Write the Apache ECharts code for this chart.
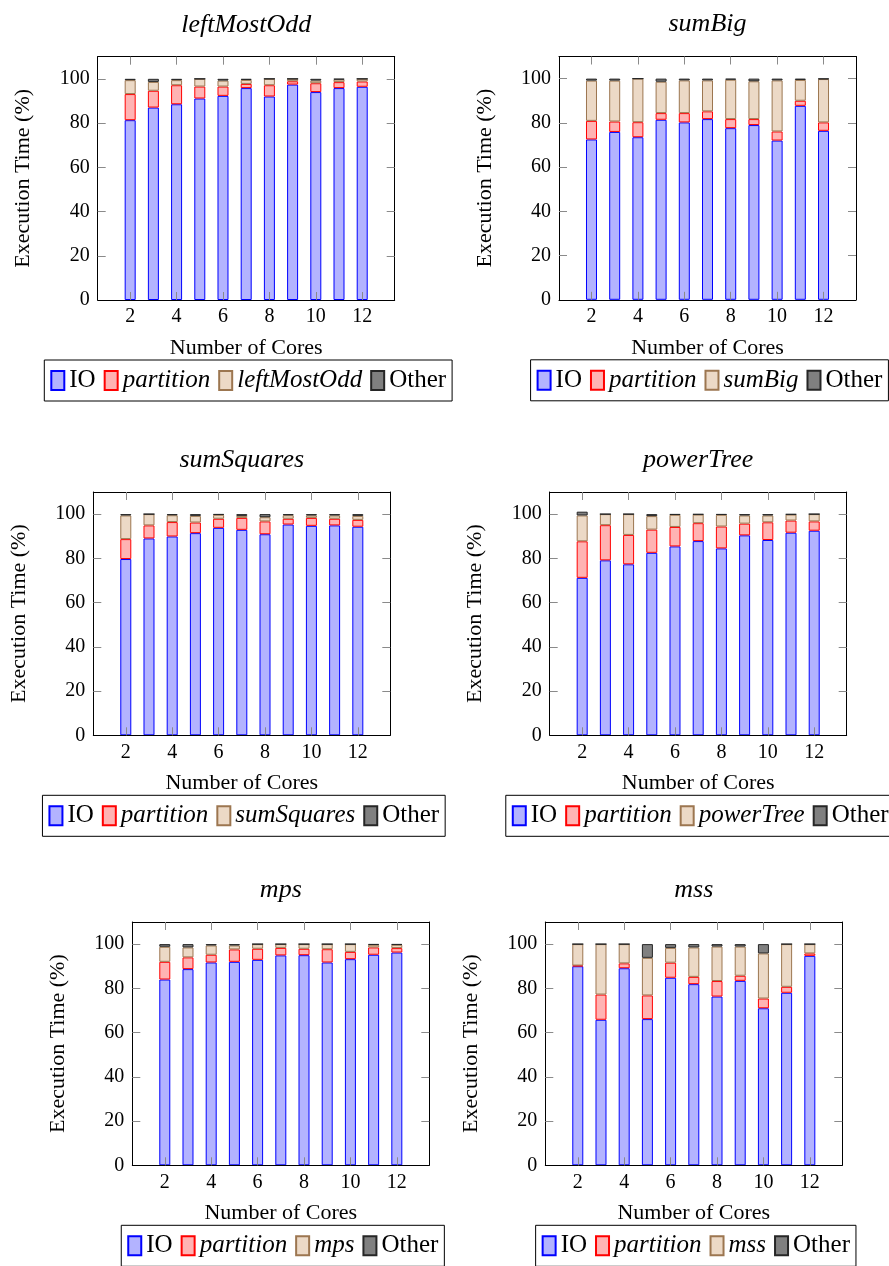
<!DOCTYPE html>
<html><head><meta charset="utf-8">
<script src="https://cdn.jsdelivr.net/npm/echarts@6/dist/echarts.min.js"></script>
<style>html,body{margin:0;padding:0;background:#fff}#c{width:889px;height:1266px}</style>
</head><body><div id="c"></div>
<script>
// ---------- data ----------
const cores = [2, 3, 4, 5, 6, 7, 8, 9, 10, 11, 12];
const xTickValues = [2, 4, 6, 8, 10, 12];
const yTickValues = [0, 20, 40, 60, 80, 100];
const chartTitles = ['leftMostOdd', 'sumBig', 'sumSquares', 'powerTree', 'mps', 'mss'];

const leftMostOddIO    = [81.3, 87.0, 88.5, 91.1, 92.3, 95.8, 92.0, 97.4, 94.0, 95.8, 96.4];
const leftMostOddPart  = [11.8, 7.6, 8.6, 5.4, 4.2, 1.9, 5.1, 1.5, 4.0, 2.7, 2.4];
const leftMostOddFunc  = [6.3, 4.0, 2.3, 3.5, 2.7, 1.8, 2.9, 1.1, 1.2, 1.2, 1.2];
const leftMostOddOther = [0.6, 1.4, 0.6, 0, 0.8, 0.5, 0, 0, 0.8, 0.3, 0];

const sumBigIO    = [72.5, 75.9, 73.5, 81.4, 80.2, 81.7, 77.6, 79.0, 72.0, 87.7, 76.4];
const sumBigPart  = [8.4, 4.7, 6.8, 3.0, 4.2, 3.5, 4.1, 2.7, 4.1, 2.3, 3.8];
const sumBigFunc  = [18.2, 18.5, 19.7, 14.2, 14.8, 14.0, 17.8, 17.1, 23.1, 9.4, 19.6];
const sumBigOther = [0.9, 0.9, 0, 1.4, 0.8, 0.8, 0.5, 1.2, 0.8, 0.6, 0.2];

const sumSquaresIO    = [79.7, 89.0, 89.9, 91.4, 93.8, 92.9, 90.9, 95.3, 94.7, 94.9, 94.3];
const sumSquaresPart  = [9.0, 5.9, 6.5, 4.8, 4.1, 5.4, 5.8, 2.6, 3.6, 3.0, 3.1];
const sumSquaresFunc  = [10.7, 5.1, 3.1, 3.0, 1.8, 0.9, 1.9, 1.6, 1.1, 1.5, 1.8];
const sumSquaresOther = [0.6, 0, 0.5, 0.8, 0.3, 0.8, 1.4, 0.5, 0.6, 0.6, 0.8];

const powerTreeIO    = [71.2, 79.1, 77.3, 82.5, 85.4, 87.8, 84.5, 90.4, 88.3, 91.6, 92.5];
const powerTreePart  = [16.5, 15.9, 13.3, 10.5, 8.8, 8.1, 9.9, 5.3, 8.0, 5.5, 4.2];
const powerTreeFunc  = [11.7, 5.0, 9.4, 6.1, 5.5, 3.9, 5.3, 3.7, 3.1, 2.7, 3.3];
const powerTreeOther = [1.7, 0, 0, 0.9, 0.3, 0.2, 0.3, 0.6, 0.6, 0.2, 0];

const mpsIO    = [84.0, 88.7, 91.7, 92.0, 92.9, 94.9, 95.0, 91.7, 93.2, 95.2, 96.2];
const mpsPart  = [8.0, 5.3, 3.5, 5.6, 5.0, 3.4, 2.9, 6.0, 3.3, 3.3, 2.0];
const mpsFunc  = [6.8, 4.5, 4.2, 1.8, 2.1, 1.7, 2.1, 2.3, 3.5, 1.2, 1.5];
const mpsOther = [1.2, 1.5, 0.6, 0.6, 0, 0, 0, 0, 0, 0.3, 0.3];

const mssIO    = [90.0, 65.8, 89.1, 66.1, 84.8, 81.9, 76.3, 83.4, 71.0, 78.0, 94.7];
const mssPart  = [0.3, 11.4, 2.2, 10.7, 6.8, 3.3, 7.0, 2.3, 4.4, 2.7, 1.1];
const mssFunc  = [9.7, 22.8, 8.7, 17.0, 6.7, 13.3, 15.6, 13.2, 20.4, 19.3, 4.2];
const mssOther = [0, 0, 0, 6.2, 1.7, 1.5, 1.1, 1.1, 4.2, 0, 0];

const panelData = [
  [leftMostOddIO, leftMostOddPart, leftMostOddFunc, leftMostOddOther],
  [sumBigIO, sumBigPart, sumBigFunc, sumBigOther],
  [sumSquaresIO, sumSquaresPart, sumSquaresFunc, sumSquaresOther],
  [powerTreeIO, powerTreePart, powerTreeFunc, powerTreeOther],
  [mpsIO, mpsPart, mpsFunc, mpsOther],
  [mssIO, mssPart, mssFunc, mssOther]
];

// ---------- layout / style ----------
const FONT = "'Liberation Serif', 'Times New Roman', serif";
const gridPos = [[97.7, 56.7], [559, 56.5], [93.3, 492], [549.7, 492], [132.3, 922], [545.3, 922]];
const GW = 297, GH = 243.3;
const X_MIN = 0.6, X_MAX = 13.4;
const fills = ['#b3b3ff', '#ffb3b3', '#ecd9c6', '#808080'];
const borders = ['#0000ff', '#ff0000', '#9c7650', '#262626'];
const LEG_FS = 25, TITLE_FS = 26, TICK_FS = 20, NAME_FS = 22;

const ctx = document.createElement('canvas').getContext('2d');
function textW(t, italic, fs) {
  ctx.font = (italic ? 'italic ' : '') + fs + 'px ' + FONT;
  return ctx.measureText(t).width;
}

const chart = echarts.init(document.getElementById('c'), null, {renderer: 'canvas'});
const grid = [], xAxis = [], yAxis = [], series = [], legend = [], title = [];
const tickStyle = {show: true, inside: true, length: 8, lineStyle: {color: '#8a8a8a', width: 1}};
const unit = GW / (X_MAX - X_MIN);

chartTitles.forEach((name, i) => {
  const [gl, gt] = gridPos[i];
  grid.push({left: gl, top: gt, width: GW, height: GH});
  const dataLeft = gl + (cores[0] - 0.5 - X_MIN) * unit;
  const dataW = (cores[cores.length - 1] - cores[0] + 1) * unit;
  grid.push({left: dataLeft, top: gt, width: dataW, height: GH});

  const cx = gl + GW / 2;
  title.push({text: name, left: cx, top: gt - 45, textAlign: 'center', padding: 0,
    textStyle: {fontFamily: FONT, fontStyle: 'italic', fontWeight: 'normal', fontSize: TITLE_FS, color: '#000'}});

  xAxis.push({gridIndex: 2 * i, type: 'value', min: X_MIN, max: X_MAX, position: 'bottom',
    name: 'Number of Cores', nameLocation: 'middle', nameGap: 37,
    nameTextStyle: {fontFamily: FONT, fontSize: NAME_FS, color: '#000'},
    axisLine: {show: true, onZero: false, lineStyle: {color: '#000', width: 1}},
    axisTick: Object.assign({customValues: xTickValues}, tickStyle),
    axisLabel: {customValues: xTickValues, margin: 7, fontFamily: FONT, fontSize: TICK_FS, color: '#000'},
    splitLine: {show: false}, z: 5});
  xAxis.push({gridIndex: 2 * i, type: 'value', min: X_MIN, max: X_MAX, position: 'top',
    axisLine: {show: true, onZero: false, lineStyle: {color: '#000', width: 1}},
    axisTick: Object.assign({customValues: xTickValues}, tickStyle),
    axisLabel: {show: false}, splitLine: {show: false}});
  xAxis.push({gridIndex: 2 * i + 1, type: 'category', data: cores, boundaryGap: true, show: false});

  yAxis.push({gridIndex: 2 * i, type: 'value', min: 0, max: 110, position: 'left',
    name: 'Execution Time (%)', nameLocation: 'middle', nameGap: 63,
    nameTextStyle: {fontFamily: FONT, fontSize: NAME_FS, color: '#000'},
    axisLine: {show: true, onZero: false, lineStyle: {color: '#000', width: 1}},
    axisTick: Object.assign({customValues: yTickValues}, tickStyle),
    axisLabel: {customValues: yTickValues, margin: 8, fontFamily: FONT, fontSize: TICK_FS, color: '#000'},
    splitLine: {show: false}});
  yAxis.push({gridIndex: 2 * i, type: 'value', min: 0, max: 110, position: 'right',
    axisLine: {show: true, onZero: false, lineStyle: {color: '#000', width: 1}},
    axisTick: Object.assign({customValues: yTickValues}, tickStyle),
    axisLabel: {show: false}, splitLine: {show: false}});
  yAxis.push({gridIndex: 2 * i + 1, type: 'value', min: 0, max: 110, show: false});

  const names = ['IO', 'partition', name, 'Other'];
  names.forEach((sn, k) => {
    series.push({
      type: 'bar', name: sn, xAxisIndex: 3 * i + 2, yAxisIndex: 3 * i + 2, stack: 'p' + i,
      barWidth: 11,
      itemStyle: {color: fills[k], borderColor: borders[k], borderWidth: 1},
      emphasis: {disabled: true}, animation: false,
      data: panelData[i][k]
    });
  });

  const itemW = 13, gap = 8, textGap = 5, padH = 6;
  const italic = [false, true, true, false];
  let w = gap * 3;
  names.forEach((sn, k) => { w += itemW + textGap + textW(sn, italic[k], LEG_FS); });
  legend.push({
    data: names.map((sn, k) => ({name: sn, textStyle: {fontStyle: italic[k] ? 'italic' : 'normal'}})),
    left: cx - w / 2 - padH, top: gt + GH + 60, width: w + 4, orient: 'horizontal',
    itemWidth: itemW, itemHeight: 19, itemGap: gap, padding: [8, padH, 8, padH],
    borderColor: '#000', borderWidth: 1, backgroundColor: '#fff',
    selectedMode: false, icon: 'rect',
    textStyle: {fontFamily: FONT, fontSize: LEG_FS, color: '#000'}
  });
});

chart.setOption({animation: false, backgroundColor: '#fff', title, grid, xAxis, yAxis, series, legend});
</script></body></html>
